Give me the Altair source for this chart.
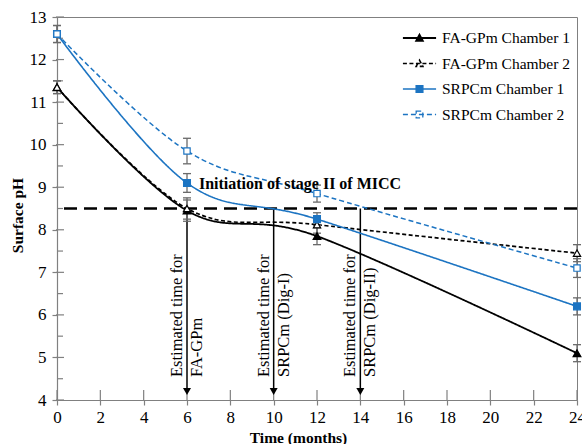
import altair as alt
import pandas as pd

# ---------------- data ----------------
months = [0, 6, 12, 24]
series_names = ["FA-GPm Chamber 1", "FA-GPm Chamber 2", "SRPCm Chamber 1", "SRPCm Chamber 2"]
fa1 = [11.35, 8.45, 7.85, 5.10]
fa1_err = [0.15, 0.25, 0.20, 0.20]
fa2 = [11.35, 8.50, 8.12, 7.45]
fa2_err = [0.15, 0.25, 0.20, 0.20]
sr1 = [12.60, 9.10, 8.25, 6.20]
sr1_err = [0.20, 0.22, 0.15, 0.20]
sr2 = [12.60, 9.85, 8.85, 7.10]
sr2_err = [0.20, 0.30, 0.20, 0.22]

threshold = [8.5]
threshold_label = "Initiation of stage II of MICC"
arrow_months = [6, 10, 14]
arrow_labels = ["Estimated time for\nFA-GPm",
                "Estimated time for\nSRPCm (Dig-I)",
                "Estimated time for\nSRPCm (Dig-II)"]
x_tick_values = list(range(0, 25))
x_major_ticks = list(range(0, 25, 2))
y_tick_values = [4 + 0.5 * i for i in range(19)]
y_major_ticks = list(range(4, 14))

BLUE = "#1c74c2"
AXIS_GRAY = "#808080"
SERIF = "Liberation Serif"

rows = []
for name, vals, errs in zip(series_names, [fa1, fa2, sr1, sr2], [fa1_err, fa2_err, sr1_err, sr2_err]):
    for m, v, e in zip(months, vals, errs):
        rows.append({"series": name, "month": m, "ph": v, "lo": v - e, "hi": v + e})
df = pd.DataFrame(rows)
caps = pd.concat([
    df[["series", "month", "lo"]].rename(columns={"lo": "ph"}),
    df[["series", "month", "hi"]].rename(columns={"hi": "ph"}),
])
arrows = pd.DataFrame({"month": arrow_months, "label": arrow_labels})
thr = pd.DataFrame({"ph": threshold})
legend_df = pd.DataFrame({"series": series_names})
xmaj = pd.DataFrame({"month": x_major_ticks})
ymaj = pd.DataFrame({"ph": y_major_ticks})

# ---------------- scales / axes ----------------
xscale = alt.Scale(domain=[0, 24], nice=False, zero=False)
yscale = alt.Scale(domain=[4, 13], nice=False, zero=False)

xaxis = alt.Axis(
    values=x_tick_values,
    labelExpr="datum.value % 2 == 0 ? datum.label : ''",
    labelOverlap=False, labelFlush=False,
    tickSize={"condition": {"test": "datum.value % 2 == 0", "value": 5}, "value": 3},
    grid=False, labelPadding=4,
    title="Time (months)", titleX=241, titleY=37, titleBaseline="middle",
)
yaxis = alt.Axis(
    values=y_tick_values,
    labelExpr="datum.value % 1 == 0 ? datum.label : ''",
    labelOverlap=False, labelFlush=False,
    tickSize={"condition": {"test": "datum.value % 1 == 0", "value": 5}, "value": 0},
    grid=False, labelPadding=6,
    title="Surface pH", titleX=-40, titleY=198, titleBaseline="middle",
)

X = alt.X("month:Q", scale=xscale, axis=xaxis)
Y = alt.Y("ph:Q", scale=yscale, axis=yaxis)

stroke_scale = alt.Scale(domain=series_names, range=["black", "black", BLUE, BLUE])
dash_scale = alt.Scale(domain=series_names, range=[[1, 0], [4, 2.5], [1, 0], [5, 3]])
width_scale = alt.Scale(domain=series_names, range=[1.8, 1.5, 2.6, 2.0])
fill_scale = alt.Scale(domain=series_names, range=["black", "white", BLUE, "white"])

# ---------------- layers ----------------
# inner halves of the crossing major ticks and inner minor ticks
y_inner = alt.Chart(pd.DataFrame({"ph": y_tick_values})).mark_tick(
    orient="horizontal", color=AXIS_GRAY, thickness=1.2, opacity=1, xOffset=3
).encode(
    x=alt.datum(0), y=alt.Y("ph:Q", scale=yscale, axis=yaxis),
    size=alt.condition("datum.ph % 1 == 0", alt.value(8), alt.value(6)),
)
x_inner = alt.Chart(xmaj).mark_tick(
    orient="vertical", color=AXIS_GRAY, thickness=1.2, size=10, opacity=1, yOffset=-5
).encode(x=alt.X("month:Q", scale=xscale, axis=xaxis), y=alt.datum(4))

thr_rule = alt.Chart(thr).mark_rule(color="black", strokeDash=[13, 7], strokeWidth=2.3).encode(
    y=alt.Y("ph:Q", scale=yscale, axis=yaxis)
)

thr_text = alt.Chart(thr).mark_text(
    text=threshold_label, align="left", baseline="middle", font=SERIF,
    fontSize=16, fontWeight="bold", color="black"
).encode(x=alt.datum(6.55), y=alt.datum(9.07))

arrow_rules = alt.Chart(arrows).mark_rule(color="black", strokeWidth=1.5).encode(
    x=alt.X("month:Q", scale=xscale, axis=xaxis),
    y=alt.datum(threshold[0]),
    y2=alt.datum(4.25),
)
arrow_heads = alt.Chart(arrows).mark_point(
    shape="triangle-down", filled=True, color="black", size=64, opacity=1
).encode(x=alt.X("month:Q", scale=xscale, axis=xaxis), y=alt.datum(4.2))

arrow_text = alt.Chart(arrows).mark_text(
    angle=270, align="left", baseline="middle", lineBreak="\n", lineHeight=20, dy=-10,
    font=SERIF, fontSize=16.5, color="black"
).encode(x=alt.X("month:Q", scale=xscale, axis=xaxis), y=alt.datum(4.54), text="label:N")

lines = alt.Chart(df).mark_line(interpolate="cardinal").encode(
    x=X, y=Y,
    stroke=alt.Stroke("series:N", scale=stroke_scale, legend=None),
    strokeDash=alt.StrokeDash("series:N", scale=dash_scale, legend=None),
    strokeWidth=alt.StrokeWidth("series:N", scale=width_scale, legend=None),
)

err_rules = alt.Chart(df).mark_rule(color="#6a6a6a", strokeWidth=1.3).encode(
    x=X, y=alt.Y("lo:Q", scale=yscale, axis=yaxis), y2="hi:Q"
)
err_caps = alt.Chart(caps).mark_tick(orient="horizontal", color="#6a6a6a", size=8, thickness=1.3, opacity=1).encode(
    x=X, y=Y
)

points = alt.Chart(df).mark_point(opacity=1, strokeWidth=1.2, filled=False).encode(
    x=X, y=Y,
    shape=alt.Shape("series:N", scale=alt.Scale(domain=series_names,
                    range=["triangle-up", "triangle-up", "square", "square"]), legend=None),
    fill=alt.Fill("series:N", scale=fill_scale, legend=None),
    stroke=alt.Stroke("series:N", scale=stroke_scale, legend=None),
    size=alt.Size("series:N", scale=alt.Scale(domain=series_names, range=[60, 40, 85, 45]), legend=None),
)

tri = "M-1,0H1M-0.2,0.17L0,-0.2L0.2,0.17Z"
sq = "M-1,0H1M-0.2,-0.2H0.2V0.2H-0.2Z"
leg = alt.Legend(title=None, orient="none", legendX=345, legendY=12.5, symbolSize=1100,
                 labelFont=SERIF, labelFontSize=15.5, labelColor="black", labelOffset=5,
                 rowPadding=8.5, clipHeight=17, padding=0)
legend_layer = alt.Chart(legend_df).mark_point(opacity=1, clip=True, filled=False).encode(
    x=alt.value(-200), y=alt.value(-200),
    shape=alt.Shape("series:N", scale=alt.Scale(domain=series_names, range=[tri, tri, sq, sq]), legend=leg),
    fill=alt.Fill("series:N", scale=fill_scale, legend=leg),
    stroke=alt.Stroke("series:N", scale=stroke_scale, legend=leg),
    strokeDash=alt.StrokeDash("series:N", scale=dash_scale, legend=leg),
    strokeWidth=alt.StrokeWidth("series:N", scale=alt.Scale(domain=series_names, range=[1.8, 1.3, 2.4, 1.6]), legend=leg),
)

chart = alt.layer(
    y_inner, x_inner, thr_rule, arrow_rules, arrow_heads, lines, err_rules, err_caps, points,
    thr_text, arrow_text, legend_layer
).resolve_scale(
    shape="independent", fill="independent", stroke="independent",
    strokeDash="independent", strokeWidth="independent", size="independent"
).properties(
    width=520, height=383,
    padding={"left": 57, "top": 17, "right": 5, "bottom": 44},
    autosize=alt.AutoSizeParams(type="none"),
    background="white",
).configure_view(
    stroke=AXIS_GRAY, strokeWidth=1
).configure_axis(
    labelFont=SERIF, labelFontSize=17, labelColor="black",
    titleFont=SERIF, titleFontSize=15.5, titleFontWeight="bold", titleColor="black",
    domainColor=AXIS_GRAY, tickColor=AXIS_GRAY, domainWidth=1.2, tickWidth=1.2,
).configure_legend(
    labelFont=SERIF, labelFontSize=15.5, labelColor="black",
).configure_text(font=SERIF)

chart.save("out.html", embed_options={"renderer": "svg", "actions": False})
